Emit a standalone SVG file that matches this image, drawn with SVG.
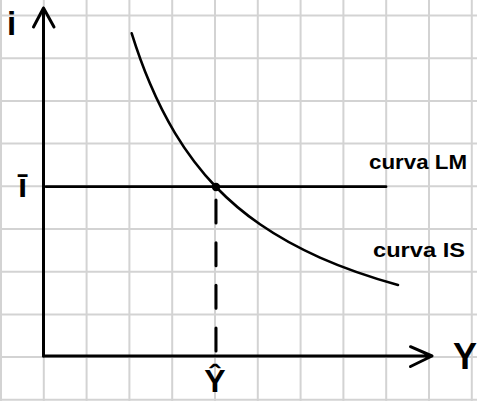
<svg xmlns="http://www.w3.org/2000/svg" width="477" height="401" viewBox="0 0 477 401">
  <style>
    .grid line { stroke: #d3d3d3; stroke-width: 2; }
    .ink { stroke: #000; fill: none; stroke-linecap: round; stroke-linejoin: round; }
    .lbl { font-family: "Liberation Sans", Arial, sans-serif; font-weight: bold; fill: #000; }
  </style>
  <rect width="477" height="401" fill="#fff"/>
  <g id="grid" class="grid">
    <line x1="1" y1="0" x2="1" y2="401"/>
    <line x1="43.8" y1="0" x2="43.8" y2="401"/>
    <line x1="86.6" y1="0" x2="86.6" y2="401"/>
    <line x1="129.4" y1="0" x2="129.4" y2="401"/>
    <line x1="172.2" y1="0" x2="172.2" y2="401"/>
    <line x1="215" y1="0" x2="215" y2="401"/>
    <line x1="257.8" y1="0" x2="257.8" y2="401"/>
    <line x1="300.6" y1="0" x2="300.6" y2="401"/>
    <line x1="343.4" y1="0" x2="343.4" y2="401"/>
    <line x1="386.2" y1="0" x2="386.2" y2="401"/>
    <line x1="429" y1="0" x2="429" y2="401"/>
    <line x1="471.8" y1="0" x2="471.8" y2="401"/>
    <line x1="0" y1="15.5" x2="477" y2="15.5"/>
    <line x1="0" y1="58.2" x2="477" y2="58.2"/>
    <line x1="0" y1="100.9" x2="477" y2="100.9"/>
    <line x1="0" y1="143.6" x2="477" y2="143.6"/>
    <line x1="0" y1="186.3" x2="477" y2="186.3"/>
    <line x1="0" y1="229" x2="477" y2="229"/>
    <line x1="0" y1="271.7" x2="477" y2="271.7"/>
    <line x1="0" y1="314.4" x2="477" y2="314.4"/>
    <line x1="0" y1="357.1" x2="477" y2="357.1"/>
    <line x1="0" y1="399.8" x2="477" y2="399.8"/>
  </g>
  <g id="axes" class="ink" stroke-width="3">
    <path d="M43.5 356 V8 M33.5 27 L43.5 8 L54 27"/>
    <path d="M43.5 356 H432 M410.5 346.7 L432 356 L410.5 366.5"/>
  </g>
  <g id="lm-curve">
    <line class="ink" x1="46" y1="186.7" x2="386" y2="186.7" stroke-width="2.8"/>
    <text class="lbl" x="369" y="169" font-size="20" textLength="98" lengthAdjust="spacingAndGlyphs">curva LM</text>
  </g>
  <g id="is-curve">
    <path class="ink" stroke-width="2.6" d="M131.7 33.3 Q140.16 60.37 150 83.6 Q161.4 110.53 175 133.1 Q193.1 163.16 216 187 Q235.78 207.55 260 224.3 Q286.66 242.77 320 257.6 Q354.51 272.9 398 285"/>
    <text class="lbl" x="373" y="257" font-size="20" textLength="92" lengthAdjust="spacingAndGlyphs">curva IS</text>
  </g>
  <g id="equilibrium">
    <line class="ink" x1="216" y1="200" x2="216" y2="351" stroke-width="3" stroke-linecap="butt" stroke-dasharray="23 19.67"/>
    <circle cx="216" cy="187" r="4.2" fill="#000"/>
  </g>
  <g id="labels">
    <text class="lbl" x="11.5" y="35" font-size="33" text-anchor="middle">i</text>
    <text class="lbl" x="22.5" y="197" font-size="33" text-anchor="middle">ī</text>
    <text class="lbl" x="465" y="369" font-size="36" text-anchor="middle">Y</text>
    <text class="lbl" x="215" y="392" font-size="32" text-anchor="middle">Ŷ</text>
  </g>
</svg>
